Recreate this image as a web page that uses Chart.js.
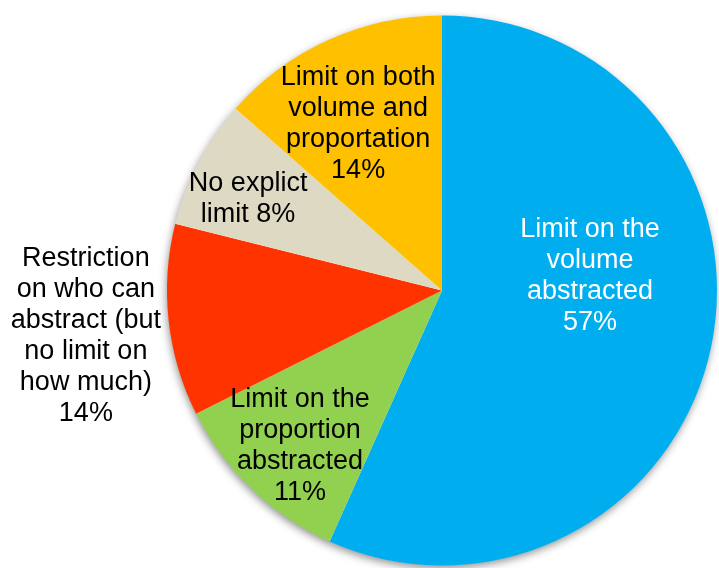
<!DOCTYPE html>
<html>
<head>
<meta charset="utf-8">
<script src="https://cdn.jsdelivr.net/npm/chart.js@4"></script>
<style>
  html, body { margin: 0; padding: 0; background: #ffffff; }
  #wrap { width: 719px; height: 568px; }
</style>
</head>
<body>
<div id="wrap"><canvas id="c" width="719" height="568"></canvas></div>
<script>
// ---- data ----
const categories = [
  "Limit on the volume abstracted",
  "Limit on the proportion abstracted",
  "Restriction on who can abstract (but no limit on how much)",
  "No explict limit",
  "Limit on both volume and proportation"
];
const sliceValues = [56.7, 10.9, 11.3, 7.6, 13.5];
const labelLines = [
  ["Limit on the", "volume", "abstracted", "57%"],
  ["Limit on the", "proportion", "abstracted", "11%"],
  ["Restriction", "on who can", "abstract (but", "no limit on", "how much)", "14%"],
  ["No explict", "limit 8%"],
  ["Limit on both", "volume and", "proportation", "14%"]
];
const sliceColors = ["#00AEEF", "#92D050", "#FF3300", "#DDD9C3", "#FFC000"];
const labelColors = ["#ffffff", "#000000", "#000000", "#000000", "#000000"];
// label block centre, in units of pie radius relative to pie centre
const labelOffsets = [
  [0.538, -0.051],
  [-0.516, 0.567],
  [-1.295, 0.165],
  [-0.705, -0.331],
  [-0.305, -0.605]
];

const shadowPlugin = {
  id: 'pieShadow',
  beforeDatasetsDraw(chart) {
    const arc = chart.getDatasetMeta(0).data[0];
    if (!arc) return;
    const ctx = chart.ctx;
    ctx.save();
    ctx.shadowColor = 'rgba(0,0,0,0.45)';
    ctx.shadowBlur = 8;
    ctx.shadowOffsetX = -1;
    ctx.shadowOffsetY = 3;
    ctx.fillStyle = '#ffffff';
    ctx.beginPath();
    ctx.arc(arc.x, arc.y, arc.outerRadius - 0.5, 0, Math.PI * 2);
    ctx.fill();
    ctx.restore();
  }
};

const labelPlugin = {
  id: 'sliceLabels',
  afterDatasetsDraw(chart) {
    const meta = chart.getDatasetMeta(0);
    const ctx = chart.ctx;
    const lineH = 31;
    ctx.save();
    ctx.font = '27px "Liberation Sans", Arial, sans-serif';
    ctx.textAlign = 'center';
    ctx.textBaseline = 'middle';
    meta.data.forEach((arc, i) => {
      const r = arc.outerRadius;
      const cx = arc.x + labelOffsets[i][0] * r;
      const cy = arc.y + labelOffsets[i][1] * r;
      const lines = labelLines[i];
      const y0 = cy - (lines.length - 1) * lineH / 2;
      ctx.fillStyle = labelColors[i];
      lines.forEach((t, k) => ctx.fillText(t, cx, y0 + k * lineH));
    });
    ctx.restore();
  }
};

new Chart(document.getElementById('c'), {
  type: 'pie',
  data: {
    labels: categories,
    datasets: [{
      data: sliceValues,
      backgroundColor: sliceColors,
      borderWidth: 0,
      hoverOffset: 0
    }]
  },
  options: {
    responsive: false,
    animation: false,
    rotation: 0,
    layout: { padding: { left: 167, top: 15, right: 2, bottom: 2 } },
    plugins: {
      legend: { display: false },
      tooltip: { enabled: false }
    }
  },
  plugins: [shadowPlugin, labelPlugin]
});
</script>
</body>
</html>
